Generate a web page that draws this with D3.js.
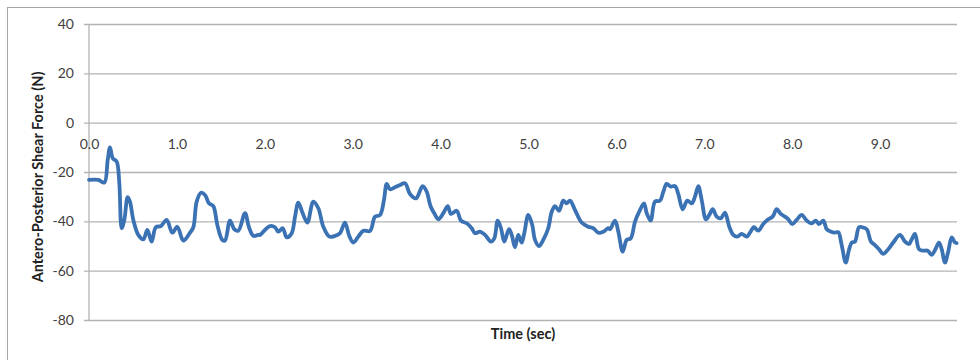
<!DOCTYPE html>
<html>
<head>
<meta charset="utf-8">
<script src="https://cdn.jsdelivr.net/npm/d3@7"></script>
<style>
  html, body { margin: 0; padding: 0; background: #fff; }
  svg { display: block; }
  text { font-family: Lato, "Open Sans", "Liberation Sans", sans-serif; }
</style>
</head>
<body>
<svg id="chart" width="980" height="360"></svg>
<script>
// ---- data ----
const times = [0, 0.106, 0.174, 0.213, 0.239, 0.270, 0.315, 0.345, 0.372, 0.402, 0.440, 0.466, 0.504, 0.561, 0.618, 0.663, 0.713, 0.759, 0.819, 0.884, 0.948, 1.005, 1.073, 1.149, 1.187, 1.225, 1.274, 1.320, 1.365, 1.414, 1.460, 1.516, 1.547, 1.604, 1.653, 1.699, 1.775, 1.820, 1.869, 1.926,
  1.945, 2.002, 2.059, 2.116, 2.154, 2.204, 2.249, 2.306, 2.344, 2.381, 2.431, 2.484, 2.552, 2.609, 2.666, 2.734, 2.799, 2.856, 2.912, 2.961, 3.007, 3.064, 3.121, 3.197, 3.254, 3.311, 3.356, 3.387, 3.424, 3.481, 3.538, 3.595, 3.652, 3.720, 3.796, 3.842, 3.887, 3.940,
  3.974, 4.031, 4.081, 4.118, 4.183, 4.232, 4.297, 4.354, 4.391, 4.448, 4.505, 4.573, 4.611, 4.650, 4.687, 4.725, 4.778, 4.809, 4.846, 4.884, 4.923, 4.952, 4.998, 5.043, 5.074, 5.119, 5.168, 5.225, 5.264, 5.301, 5.347, 5.396, 5.435, 5.472, 5.529, 5.605, 5.680, 5.737, 5.794, 5.851, 5.908,
  5.927, 5.984, 6.022, 6.072, 6.117, 6.163, 6.212, 6.260, 6.314, 6.345, 6.390, 6.439, 6.496, 6.534, 6.572, 6.618, 6.667, 6.704, 6.754, 6.807, 6.857, 6.894, 6.932, 6.970, 7.019, 7.057, 7.096, 7.141, 7.187, 7.235, 7.284, 7.330, 7.375, 7.425, 7.482, 7.520, 7.565, 7.614, 7.671, 7.728, 7.778, 7.824, 7.869, 7.918,
  7.956, 8.001, 8.051, 8.108, 8.165, 8.222, 8.268, 8.305, 8.354, 8.393, 8.441, 8.487, 8.524, 8.563, 8.609, 8.646, 8.677, 8.714, 8.760, 8.797, 8.848, 8.896, 8.942, 8.987, 9.036, 9.093, 9.150, 9.226, 9.283, 9.329, 9.360, 9.397, 9.443, 9.492, 9.542, 9.587, 9.625, 9.670, 9.701, 9.738, 9.775, 9.815, 9.852, 9.871];
const forces = [-23.2, -23.2, -24.3, -15.1, -10.0, -14.4, -15.8, -24.6, -42.8, -39.4, -30.2, -32.0, -39.4, -45.5, -47.3, -43.5, -48.2, -42.4, -41.9, -39.4, -44.6, -42.2, -47.8, -44.6, -42.4, -32.0, -28.4, -29.3, -32.7, -33.8, -41.5, -47.5, -47.8, -39.7, -43.2, -43.8, -36.7, -42.4, -45.9, -45.5,
  -45.5, -43.5, -41.9, -42.4, -44.2, -42.8, -46.5, -44.8, -38.1, -32.4, -36.7, -40.5, -32.0, -34.7, -42.2, -46.2, -45.9, -44.8, -40.5, -45.9, -48.6, -46.2, -43.8, -43.9, -38.1, -37.4, -31.3, -24.8, -27.0, -26.2, -25.3, -24.6, -28.9, -30.7, -25.7, -28.0, -34.0, -37.5,
  -39.2, -36.7, -33.8, -37.0, -35.7, -39.7, -40.8, -42.8, -44.8, -44.2, -45.5, -48.2, -46.9, -39.7, -42.8, -48.2, -43.2, -45.5, -50.5, -45.5, -48.6, -44.8, -37.4, -41.5, -47.5, -50.0, -47.5, -42.8, -36.1, -33.8, -35.7, -31.6, -32.7, -31.6, -35.4, -40.5, -42.2, -42.8, -44.6, -44.2, -42.8,
  -43.2, -39.7, -44.2, -52.3, -47.5, -46.9, -40.1, -36.1, -32.7, -36.7, -39.7, -32.0, -31.6, -28.0, -24.8, -25.9, -25.7, -28.9, -35.1, -31.6, -32.7, -30.0, -25.7, -31.3, -39.2, -37.4, -35.1, -38.1, -38.8, -36.5, -42.2, -45.5, -46.2, -45.1, -46.2, -44.6, -42.4, -43.8, -41.1, -39.2, -38.1, -35.1, -37.0, -38.1,
  -39.2, -41.1, -39.4, -37.4, -39.7, -40.8, -39.7, -41.1, -39.7, -43.2, -44.2, -44.6, -44.4, -49.6, -56.7, -51.6, -48.6, -48.2, -42.4, -42.4, -43.2, -48.2, -49.6, -51.3, -53.2, -51.3, -48.6, -45.5, -48.2, -49.2, -47.3, -45.1, -51.3, -51.9, -51.9, -53.6, -51.6, -48.6, -51.3, -56.7, -52.3, -46.5, -48.6, -48.8];
const xTickValues = [0, 1, 2, 3, 4, 5, 6, 7, 8, 9];
const yTickValues = [40, 20, 0, -20, -40, -60, -80];
const xTitle = "Time (sec)";
const yTitle = "Antero-Posterior Shear Force (N)";

// ---- layout ----
const svg = d3.select("#chart");
const mLeft = 89, mRight = 957, mTop = 24, mBottom = 320;

// outer chart border
svg.append("rect")
  .attr("x", 7.5).attr("y", 7.5)
  .attr("width", 1000).attr("height", 400)
  .attr("fill", "none").attr("stroke", "#a6a6a6").attr("stroke-width", 1);

const x = d3.scaleLinear().domain([0, 9.875]).range([mLeft, mRight]);
const y = d3.scaleLinear().domain([-80, 40]).range([mBottom, mTop]);

// gridlines + y ticks
const yAxis = d3.axisLeft(y).tickValues(yTickValues).tickSize(5).tickPadding(10)
  .tickFormat(d => String(d));
const gy = svg.append("g").attr("transform", `translate(${mLeft},0)`).call(yAxis);
gy.select(".domain").remove();
gy.selectAll(".tick line").attr("stroke", "#b3b3b3").attr("stroke-width", 1.3).attr("x1", -5).attr("x2", mRight - mLeft);
gy.selectAll(".tick text").attr("fill", "#404040").attr("font-size", 14);

// y axis line
svg.append("line").attr("x1", mLeft).attr("x2", mLeft).attr("y1", mTop).attr("y2", mBottom)
  .attr("stroke", "#b3b3b3").attr("stroke-width", 1.3);

// x axis labels at y = 0
const xAxis = d3.axisBottom(x).tickValues(xTickValues).tickSize(0).tickPadding(16)
  .tickFormat(d3.format(".1f"));
const gx = svg.append("g").attr("transform", `translate(0,${y(0)})`).call(xAxis);
gx.select(".domain").remove();
gx.selectAll(".tick text").attr("fill", "#404040").attr("font-size", 14);

// series
const pts = times.map((t, i) => [t, forces[i]]);
const line = d3.line().x(d => x(d[0])).y(d => y(d[1])).curve(d3.curveCatmullRom.alpha(0.5));
svg.append("path").datum(pts)
  .attr("d", line)
  .attr("fill", "none")
  .attr("stroke", "#3b72b4")
  .attr("stroke-width", 3.8)
  .attr("stroke-linejoin", "round")
  .attr("stroke-linecap", "round");

// titles
svg.append("text")
  .attr("x", (mLeft + mRight) / 2).attr("y", 339)
  .attr("text-anchor", "middle").attr("font-weight", "bold").attr("font-size", 14.5).attr("fill", "#222")
  .text(xTitle);
svg.append("text")
  .attr("transform", `translate(43,${(mTop + mBottom) / 2 + 5}) rotate(-90)`)
  .attr("text-anchor", "middle").attr("font-weight", "bold").attr("font-size", 14.5).attr("fill", "#222")
  .text(yTitle);
</script>
</body>
</html>
